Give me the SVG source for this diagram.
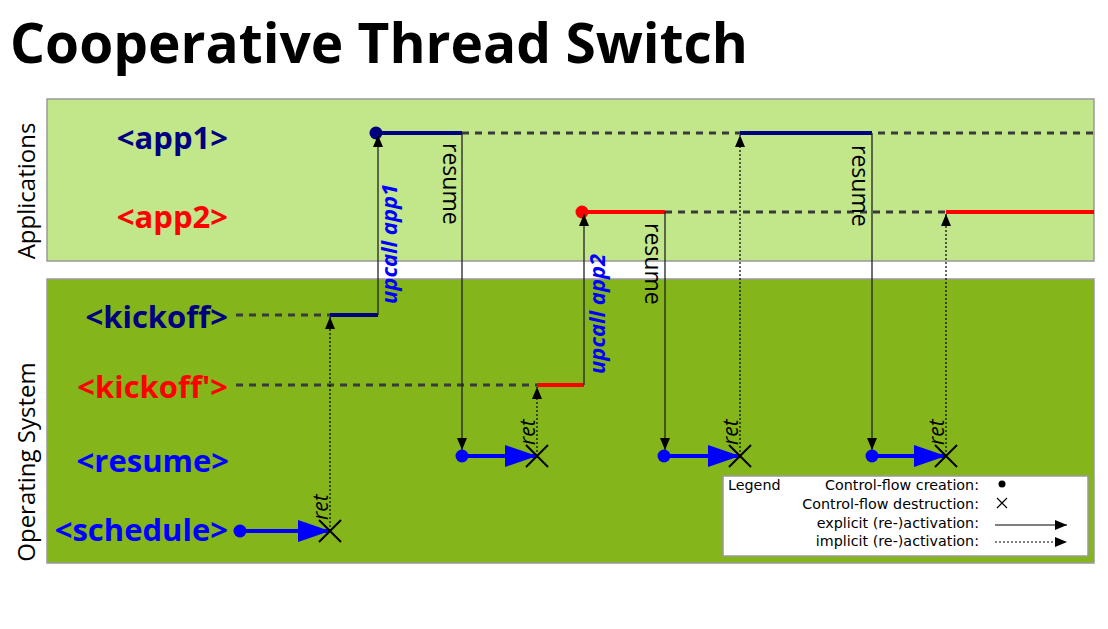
<svg xmlns="http://www.w3.org/2000/svg" width="1108" height="629" viewBox="0 0 1108 629">
<defs>
<style>
.title{font-family:"Open Sans","Liberation Sans",sans-serif;font-weight:bold;font-size:56px;fill:#000}
.lbl{font-family:"Open Sans","Liberation Sans",sans-serif;font-weight:bold;font-size:31px;text-anchor:end}
.side{font-family:"Open Sans","Liberation Sans",sans-serif;font-size:24px;text-anchor:middle;fill:#000}
.res{font-family:"Open Sans","Liberation Sans",sans-serif;font-size:23px;fill:#000}
.up{font-family:"Open Sans","Liberation Sans",sans-serif;font-size:22px;font-weight:bold;font-style:italic;fill:#0000ff}
.ret{font-family:"Open Sans","Liberation Sans",sans-serif;font-size:21px;font-style:italic;fill:#000}
.leg{font-family:"DejaVu Sans","Liberation Sans",sans-serif;font-size:14.3px;fill:#000}
.panel{stroke:#999;stroke-width:1.5}
.dash{stroke:#3a3a3a;stroke-width:3;stroke-dasharray:7 6;fill:none}
.solid{stroke:#222;stroke-width:1.3;fill:none;marker-end:url(#ah)}
.dot{stroke:#000;stroke-width:1.2;stroke-dasharray:2 2;fill:none;marker-end:url(#ah)}
.navy{stroke:#000080;stroke-width:4;fill:none}
.red{stroke:#ff0000;stroke-width:4;fill:none}
.blue{stroke:#0000ff;stroke-width:4;fill:none;marker-end:url(#bh)}
.x{stroke:#000;stroke-width:2;fill:none}
</style>
<marker id="ah" viewBox="0 0 12 10" refX="12" refY="5" markerWidth="12" markerHeight="10" markerUnits="userSpaceOnUse" orient="auto"><path d="M0,0 L12,5 L0,10 z" fill="#000"/></marker>
<marker id="bh" viewBox="0 0 32 22" refX="32" refY="11" markerWidth="32" markerHeight="22" markerUnits="userSpaceOnUse" orient="auto"><path d="M0,0 L32,11 L0,22 z" fill="#0000ff"/></marker>
</defs>
<rect width="1108" height="629" fill="#fff"/>
<text class="title" x="10" y="63" textLength="738" lengthAdjust="spacingAndGlyphs">Cooperative Thread Switch</text>

<g id="panels">
<rect id="applications" class="panel" x="47" y="99" width="1047" height="162" fill="#c2e68a"/>
<rect id="operating-system" class="panel" x="47" y="279" width="1047" height="284" fill="#84b51a"/>
<text class="side" transform="translate(35,191) rotate(-90)">Applications</text>
<text class="side" transform="translate(35,462) rotate(-90)">Operating System</text>
</g>

<g id="lane-app1"><text class="lbl" x="228" y="149" fill="#000080">&lt;app1&gt;</text></g>
<g id="lane-app2"><text class="lbl" x="228" y="228" fill="#ff0000">&lt;app2&gt;</text></g>
<g id="lane-kickoff"><text class="lbl" x="228" y="328" fill="#000080">&lt;kickoff&gt;</text></g>
<g id="lane-kickoff2"><text class="lbl" x="228" y="398" fill="#ff0000">&lt;kickoff'&gt;</text></g>
<g id="lane-resume"><text class="lbl" x="229" y="472" fill="#0000ff">&lt;resume&gt;</text></g>
<g id="lane-schedule"><text class="lbl" x="228" y="541" fill="#0000ff">&lt;schedule&gt;</text></g>

<g id="connectors">
<path class="dash" d="M236,315 H330 M236,385 H537 M462,133 H1094 M665,212 H946"/>
<path class="navy" d="M376,133 H462 M740,133 H872 M330,315 H378"/>
<path class="red" d="M582,212 H665 M946,212 H1094 M537,385 H584"/>
<circle cx="376" cy="133" r="6.5" fill="#000080"/>
<circle cx="582" cy="212" r="6.5" fill="#ff0000"/>
<path class="solid" d="M378,315 V135"/>
<path class="solid" d="M584,385 V214"/>
<path class="solid" d="M462,133 V450"/>
<path class="solid" d="M665,212 V450"/>
<path class="solid" d="M872,133 V450"/>
<path class="dot" d="M330,531 V317"/>
<path class="dot" d="M537,456 V387"/>
<path class="dot" d="M740,456 V135"/>
<path class="dot" d="M946,456 V214"/>
<path class="blue" d="M240,531 H330"/>
<path class="blue" d="M462,456 H537"/>
<path class="blue" d="M664,456 H740"/>
<path class="blue" d="M872,456 H946"/>
<g fill="#0000ff">
<circle cx="240" cy="531" r="6.5"/>
<circle cx="462" cy="456" r="6.5"/>
<circle cx="664" cy="456" r="6.5"/>
<circle cx="872" cy="456" r="6.5"/>
</g>
<path class="x" d="M319,520 L341,542 M341,520 L319,542"/>
<path class="x" d="M526,445 L548,467 M548,445 L526,467"/>
<path class="x" d="M729,445 L751,467 M751,445 L729,467"/>
<path class="x" d="M935,445 L957,467 M957,445 L935,467"/>
<text class="res" transform="translate(443,143) rotate(90)">resume</text>
<text class="res" transform="translate(645,223) rotate(90)">resume</text>
<text class="res" transform="translate(852,145) rotate(90)">resume</text>
<text class="up" transform="translate(397,304) rotate(-90)">upcall app1</text>
<text class="up" transform="translate(605,374) rotate(-90)">upcall app2</text>
<text class="ret" transform="translate(328,520) rotate(-90)">ret</text>
<text class="ret" transform="translate(535,445) rotate(-90)">ret</text>
<text class="ret" transform="translate(738,445) rotate(-90)">ret</text>
<text class="ret" transform="translate(944,445) rotate(-90)">ret</text>
</g>

<g id="legend">
<rect x="723" y="476" width="365" height="80" fill="#fff" stroke="#999" stroke-width="1.5"/>
<text class="leg" x="728" y="490">Legend</text>
<g text-anchor="end">
<text class="leg" x="979" y="490">Control-flow creation:</text>
<text class="leg" x="979" y="509">Control-flow destruction:</text>
<text class="leg" x="979" y="528">explicit (re-)activation:</text>
<text class="leg" x="979" y="546">implicit (re-)activation:</text>
</g>
<circle cx="1002" cy="484" r="3.5" fill="#000"/>
<path d="M997,498 L1007,508 M1007,498 L997,508" stroke="#000" stroke-width="1.2"/>
<path d="M995,525 H1067" stroke="#000" stroke-width="1.2" marker-end="url(#ah)"/>
<path d="M995,542 H1067" stroke="#000" stroke-width="1.2" stroke-dasharray="2 2" marker-end="url(#ah)"/>
</g>
</svg>
